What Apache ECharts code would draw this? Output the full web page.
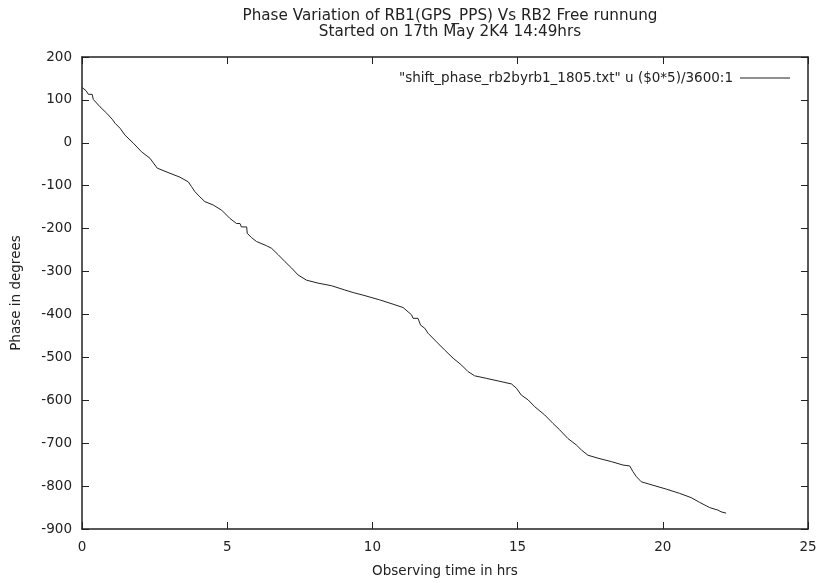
<!DOCTYPE html>
<html>
<head>
<meta charset="utf-8">
<script src="https://cdn.jsdelivr.net/npm/echarts@6/dist/echarts.min.js"></script>
<style>html,body{margin:0;padding:0;background:#fff}#c{width:823px;height:583px}</style>
</head>
<body>
<div id="c"></div>
<script>
const hours = [0,0.14,0.22,0.35,0.39,0.62,0.85,1.04,1.14,1.31,1.48,1.77,2.05,2.34,2.59,3.03,3.37,3.66,3.77,3.89,4.06,4.23,4.52,4.81,5.09,5.32,5.44,5.49,5.67,5.69,5.84,6.01,6.36,6.53,6.76,6.99,7.22,7.44,7.73,8.13,8.59,9.05,9.34,9.68,10.25,10.71,11.06,11.23,11.35,11.4,11.57,11.66,11.8,11.92,12.21,12.49,12.78,13.07,13.29,13.52,13.93,14.33,14.79,14.96,15.13,15.36,15.59,15.93,16.22,16.45,16.73,17.02,17.2,17.42,17.77,18.23,18.63,18.86,18.97,19.09,19.26,19.66,20.12,20.58,20.98,21.27,21.61,21.9,22.01,22.18];
const phase = [129,121.5,113,113,101,84,69,55,45.5,34,18,-1,-21,-36,-59,-71,-80,-91,-102,-114,-126,-137,-145,-157,-176,-188,-188,-196,-196,-211,-221,-230,-240,-246,-261,-277,-292,-308,-320,-327,-333,-343,-349,-355,-366,-376,-384,-394,-401,-409,-409,-425,-432,-444,-464,-483,-502,-518,-533,-543,-549,-555,-562,-572,-588,-599,-615,-634,-654,-669,-689,-704,-716,-728,-735,-743,-751,-753,-766,-778,-790,-798,-807,-817,-827,-838,-850,-856,-860,-863];
const titleLines = ['Phase Variation of RB1(GPS_PPS) Vs RB2 Free runnung','Started on 17th May 2K4 14:49hrs'];
const seriesName = '"shift_phase_rb2byrb1_1805.txt" u ($0*5)/3600:1';
const xTitle = 'Observing time in hrs';
const yTitle = 'Phase in degrees';

const FONT = '"DejaVu Sans", "Liberation Sans", sans-serif';
const AX = '#222';
const FS = 13.5;
const chart = echarts.init(document.getElementById('c'), null, {renderer: 'canvas'});
const data = hours.map((h, i) => [h, phase[i]]);
const baseAxis = {
  axisLine: {show: true, onZero: false, lineStyle: {color: AX, width: 1.5}},
  axisTick: {show: true, inside: true, length: 7, lineStyle: {color: AX, width: 1}},
  splitLine: {show: false}
};
chart.setOption({
  animation: false,
  backgroundColor: '#fff',
  title: {
    text: titleLines.join('\n'),
    left: 445, top: 3, textAlign: 'center',
    textStyle: {fontFamily: FONT, fontSize: 15.2, fontWeight: 'normal', color: '#222', lineHeight: 16}
  },
  legend: {
    show: true, right: 28, top: 66, orient: 'vertical', align: 'right',
    itemWidth: 50, itemHeight: 1, icon: 'rect', itemGap: 4,
    textStyle: {fontFamily: FONT, fontSize: FS, color: '#222', padding: [0, 2, 0, 0]},
    data: [seriesName]
  },
  grid: {left: 82, right: 15, top: 57, bottom: 54, containLabel: false},
  xAxis: [
    Object.assign({}, baseAxis, {
      type: 'value', min: 0, max: 25, interval: 5, position: 'bottom',
      name: xTitle, nameLocation: 'middle', nameGap: 35,
      nameTextStyle: {fontFamily: FONT, fontSize: FS, color: '#222'},
      axisLabel: {fontFamily: FONT, fontSize: FS, color: '#222', margin: 11}
    }),
    Object.assign({}, baseAxis, {
      type: 'value', min: 0, max: 25, interval: 5, position: 'top',
      axisLabel: {show: false}
    })
  ],
  yAxis: [
    Object.assign({}, baseAxis, {
      type: 'value', min: -900, max: 200, interval: 100, position: 'left',
      name: yTitle, nameLocation: 'middle', nameGap: 59, nameRotate: 90,
      nameTextStyle: {fontFamily: FONT, fontSize: FS, color: '#222'},
      axisLabel: {fontFamily: FONT, fontSize: FS, color: '#222', margin: 10}
    }),
    Object.assign({}, baseAxis, {
      type: 'value', min: -900, max: 200, interval: 100, position: 'right',
      axisLabel: {show: false}
    })
  ],
  series: [{
    name: seriesName, type: 'line', data: data,
    xAxisIndex: 0, yAxisIndex: 0,
    showSymbol: false, symbol: 'none',
    lineStyle: {color: '#222', width: 1},
    itemStyle: {color: '#222'}
  }]
});
</script>
</body>
</html>
